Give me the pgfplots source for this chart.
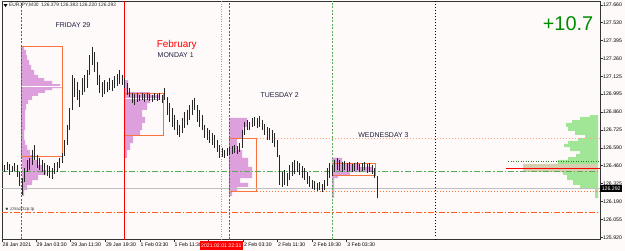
\documentclass[border=0pt]{standalone}
\usepackage{fontspec}
\setmainfont{Liberation Sans}
\usepackage{pgfplots}
\usepackage{pgfplotstable}
\pgfplotsset{compat=1.18}
\definecolor{bgc}{RGB}{255,250,250}
\definecolor{vio}{RGB}{221,160,221}
\definecolor{orng}{RGB}{250,115,60}
\definecolor{salm}{RGB}{255,165,130}
\definecolor{ored}{RGB}{255,95,25}
\definecolor{lgreen}{RGB}{160,230,150}
\definecolor{tanb}{RGB}{215,205,175}
\definecolor{dgreen}{RGB}{40,130,40}
\definecolor{mgreen}{RGB}{90,170,90}
\definecolor{txt}{RGB}{30,30,60}
\definecolor{pgreen}{RGB}{0,140,0}
\definecolor{lred}{RGB}{255,120,120}
\pgfplotstableread{
h l
126.479 126.426
126.464 126.411
126.486 126.426
126.471 126.389
126.456 126.411
126.479 126.419
126.464 126.374
126.411 126.307
126.366 126.239
126.441 126.336
126.501 126.411
126.516 126.426
126.576 126.464
126.613 126.501
126.538 126.441
126.516 126.426
126.501 126.411
126.479 126.389
126.464 126.381
126.456 126.366
126.441 126.359
126.479 126.396
126.486 126.411
126.516 126.441
126.553 126.479
126.651 126.531
126.763 126.613
126.890 126.725
127.137 126.875
127.114 126.972
127.084 126.950
127.024 126.897
127.114 126.987
127.137 127.009
127.174 127.039
127.286 127.137
127.346 127.211
127.309 127.159
127.234 127.062
127.137 127.002
127.084 126.972
127.099 126.995
127.084 127.009
127.114 127.024
127.099 127.017
127.129 127.039
127.144 127.054
127.174 127.069
127.137 127.062
127.114 127.039
127.077 126.987
127.039 126.972
127.002 126.927
126.995 126.912
127.002 126.935
126.987 126.942
127.002 126.950
126.995 126.935
127.002 126.950
126.995 126.942
126.987 126.935
127.002 126.950
126.995 126.942
127.002 126.950
126.987 126.927
127.039 126.950
126.972 126.837
126.927 126.785
126.890 126.748
126.837 126.725
126.800 126.688
126.763 126.673
126.815 126.703
126.860 126.740
126.875 126.763
126.912 126.800
126.950 126.837
126.965 126.875
126.912 126.785
126.875 126.748
126.837 126.725
126.763 126.665
126.740 126.651
126.725 126.628
126.703 126.613
126.688 126.591
126.651 126.561
126.613 126.516
126.591 126.523
126.576 126.516
126.591 126.531
126.598 126.538
126.606 126.546
126.613 126.553
126.606 126.546
126.628 126.561
126.725 126.591
126.785 126.688
126.800 126.725
126.785 126.725
126.815 126.748
126.823 126.755
126.815 126.740
126.830 126.748
126.800 126.725
126.770 126.688
126.748 126.651
126.740 126.651
126.725 126.628
126.703 126.598
126.651 126.523
126.538 126.314
126.411 126.299
126.426 126.314
126.404 126.307
126.464 126.351
126.486 126.381
126.501 126.396
126.493 126.411
126.479 126.389
126.456 126.366
126.441 126.351
126.411 126.322
126.381 126.299
126.351 126.284
126.344 126.277
126.329 126.269
126.336 126.277
126.322 126.262
126.351 126.277
126.441 126.307
126.479 126.366
126.464 126.381
126.501 126.411
126.516 126.426
126.501 126.419
126.486 126.411
126.493 126.426
126.479 126.411
126.486 126.419
126.471 126.411
126.479 126.419
126.486 126.426
126.471 126.411
126.479 126.419
126.486 126.426
126.471 126.404
126.479 126.411
126.464 126.396
126.441 126.366
126.383 126.220
}\bars
\begin{document}
\begin{tikzpicture}
\fill[bgc] (-2bp,-11.5bp) rectangle (623bp,239.5bp);
\begin{axis}[at={(0,0)}, anchor=south west, scale only axis,
  width=598bp, height=238.5bp,
  xmin=2, xmax=600, ymin=125.9064, ymax=127.6899, clip=false,
  axis line style={black!80, line width=0.8bp},
  tick align=outside, major tick length=2.5bp,
  tick style={black!80, line width=0.5bp},
  xtick pos=left, ytick pos=right, yticklabel pos=right,
  xtick={2,36,70.7,105.3,140,174,208.7,243.3,277.3,312.7,346.7},
  xticklabels={28 Jan 2021,29 Jan 03:30,29 Jan 11:30,29 Jan 19:30,1 Feb 03:30,1 Feb 11:30,{},2 Feb 03:30,2 Feb 11:30,2 Feb 19:30,3 Feb 03:30},
  ytick={127.660,127.530,127.395,127.260,127.125,126.995,126.860,126.725,126.590,126.460,126.325,126.190,126.055,125.920},
  yticklabels={127.660,127.530,127.395,127.260,127.125,126.995,126.860,126.725,126.590,126.460,126.325,126.190,126.055,125.920},
  xticklabel style={anchor=north west, font=\fontsize{5.2}{6}\selectfont, inner sep=0pt, xshift=0.5bp, yshift=-0.5bp},
  yticklabel style={anchor=west, font=\fontsize{5.2}{6}\selectfont, inner sep=0pt, xshift=0.5bp},
]
% day volume profiles
\addplot[fill=vio, draw=none, const plot, forget plot] coordinates {
(22,127.346) (24,127.324) (26,127.286) (27,127.249) (29,127.211) (31,127.174) (34,127.137) (38,127.114) (44,127.092) (52,127.069) (60,127.054) (62,127.039) (52,127.024) (45,127.002) (38,126.980) (32,126.950) (28,126.920) (26,126.875) (25,126.725) (24,126.651) (25,126.613) (27,126.576) (30,126.538) (33,126.501) (38,126.464) (42,126.426) (46,126.389) (38,126.351) (32,126.314) (27,126.277) (24,126.232) (22,126.232)} -- cycle;
\addplot[fill=vio, draw=none, const plot, forget plot] coordinates {
(124.5,127.099) (128,127.009) (150,126.987) (160,126.950) (150,126.927) (147,126.875) (142,126.823) (145,126.778) (142,126.725) (140,126.688) (133,126.628) (130,126.576) (127,126.516) (124.5,126.516)} -- cycle;
\addplot[fill=vio, draw=none, const plot, forget plot] coordinates {
(229,126.815) (247,126.748) (243,126.665) (237,126.576) (242,126.516) (248,126.449) (252,126.366) (240,126.329) (248,126.299) (237,126.262) (232,126.232) (229,126.232)} -- cycle;
\addplot[fill=vio, draw=none, const plot, forget plot] coordinates {
(332,126.516) (342,126.479) (360,126.449) (372,126.411) (350,126.389) (338,126.366) (334,126.217) (332,126.217)} -- cycle;
% composite profile
\addplot[fill=lgreen, draw=none, const plot, forget plot] coordinates {
(598,126.837) (590,126.823) (580,126.800) (572,126.778) (566,126.748) (568,126.718) (575,126.688) (585,126.665) (578,126.643) (568,126.621) (564,126.598) (570,126.568) (580,126.546) (576,126.523) (568,126.501) (558,126.471) (540,126.411) (563,126.389) (567,126.351) (573,126.314) (580,126.292) (595,126.217) (598,126.217)} -- cycle;
\addplot[fill=tanb, draw=none, forget plot] coordinates {(523,126.471) (598,126.471) (598,126.411) (523,126.411)} -- cycle;
% POC lines
\addplot[white, line width=0.8bp, forget plot] coordinates {(22,127.049) (62,127.049)};
\addplot[white, line width=0.8bp, forget plot] coordinates {(124.5,126.962) (163,126.962)};
% value area boxes
\addplot[orng, line width=0.9bp, forget plot] coordinates {(21.7,127.348) (62.3,127.348) (62.3,126.526) (21.7,126.526)} -- cycle;
\addplot[orng, line width=0.9bp, forget plot] coordinates {(124.3,127.000) (163.3,127.000) (163.3,126.686) (124.3,126.686)} -- cycle;
\addplot[orng, line width=0.9bp, forget plot] coordinates {(229,126.663) (256.7,126.663) (256.7,126.269) (229,126.269)} -- cycle;
\addplot[orng, line width=0.9bp, forget plot] coordinates {(332.3,126.476) (375.7,126.476) (375.7,126.383) (332.3,126.383)} -- cycle;
% horizontal lines
\addplot[salm, line width=1bp, dash pattern=on 1.5bp off 1.5bp, forget plot] coordinates {(256.7,126.663) (600,126.663)};
\addplot[orng, line width=0.9bp, dash pattern=on 1.5bp off 1.5bp, forget plot] coordinates {(256.7,126.269) (600,126.269)};
\addplot[ored, line width=0.9bp, dash pattern=on 6bp off 2bp on 1.5bp off 2bp, forget plot] coordinates {(2,126.110) (600,126.110)};
\addplot[mgreen, line width=0.9bp, dash pattern=on 6bp off 2bp on 1.5bp off 2bp, forget plot] coordinates {(2,126.413) (600,126.413)};
\addplot[black!25, line width=0.8bp, forget plot] coordinates {(2,126.289) (600,126.289)};
\addplot[dgreen, line width=0.8bp, dash pattern=on 1bp off 1.5bp, forget plot] coordinates {(508,126.488) (600,126.488)};
\addplot[red, line width=1.5bp, forget plot] coordinates {(506,126.439) (600,126.439)};
% vertical separators
\addplot[dgreen, line width=0.8bp, dash pattern=on 2bp off 1.5bp, forget plot] coordinates {(21.7,125.9064) (21.7,127.6899)};
\addplot[red, line width=1bp, forget plot] coordinates {(124.3,125.9064) (124.3,127.6899)};
\addplot[lred, line width=0.8bp, dash pattern=on 1bp off 1.5bp, forget plot] coordinates {(221.7,125.9064) (221.7,127.6899)};
\addplot[dgreen, line width=0.8bp, dash pattern=on 2bp off 1.5bp, forget plot] coordinates {(229,125.9064) (229,127.6899)};
\addplot[mgreen, line width=0.8bp, dash pattern=on 2bp off 1.5bp, forget plot] coordinates {(332,125.9064) (332,127.6899)};
\addplot[black, line width=0.7bp, dash pattern=on 1bp off 2bp, forget plot] coordinates {(435.7,125.9064) (435.7,127.6899)};
% price bars
\addplot[draw=none, mark=none, forget plot,
  error bars/.cd, y dir=minus, y explicit, error mark=none,
  error bar style={black!85, line width=0.7bp}]
  table[x expr=2+2.5*\coordindex, y=h, y error minus expr=\thisrow{h}-\thisrow{l}] {\bars};
% texts
\node[text=txt, font=\fontsize{7}{8}\selectfont] at (axis cs:73,127.510) {FRIDAY 29};
\node[text=red, font=\fontsize{10}{12}\selectfont] at (axis cs:176.7,127.361) {February};
\node[text=txt, font=\fontsize{7}{8}\selectfont] at (axis cs:175.7,127.286) {MONDAY 1};
\node[text=txt, font=\fontsize{7}{8}\selectfont] at (axis cs:279.7,126.987) {TUESDAY 2};
\node[text=txt, font=\fontsize{7}{8}\selectfont] at (axis cs:383.5,126.688) {WEDNESDAY 3};
\node[text=pgreen, font=\fontsize{20}{24}\selectfont] at (axis cs:568,127.522) {+10.7};
\node[anchor=west, inner sep=0pt, text=black!85, font=\fontsize{4.9}{6}\selectfont] at (axis cs:9,127.656) {EURJPY,M30\ \ 126.379 126.383 126.220 126.292};
\fill[black] (axis cs:3.5,127.667) -- (axis cs:7.5,127.667) -- (axis cs:5.5,127.645) -- cycle;
\node[anchor=west, inner sep=0pt, text=black!75, font=\fontsize{4.5}{5}\selectfont] at (axis cs:5,126.134) {$\bullet$ z3razi3zp.tp};
\coordinate (cp) at (axis cs:600,126.289);
\coordinate (ct) at (axis cs:221.3,125.863);
\end{axis}
\node[fill=black, text=white, anchor=west, inner sep=0pt, minimum height=7.5bp, minimum width=22bp, font=\fontsize{5.2}{6}\selectfont] at (cp) {126.292};
\node[fill=red, text=white, inner sep=0pt, minimum height=9bp, minimum width=43bp, font=\fontsize{5.2}{6}\selectfont] at (ct) {2021.02.01 22:31};
\pgfresetboundingbox
\useasboundingbox (-2bp,-11.5bp) rectangle (623bp,239.5bp);
\end{tikzpicture}
\end{document}
